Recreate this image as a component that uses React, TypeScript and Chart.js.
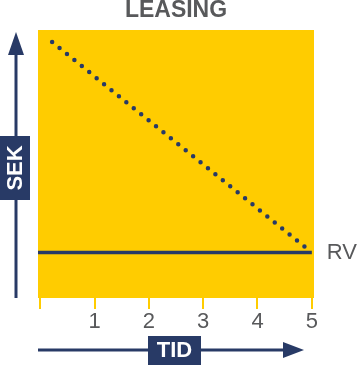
import React, { useEffect, useRef } from "react";
import { Chart, registerables } from "chart.js";

Chart.register(...registerables);

const TITLE = "LEASING";
const Y_LABEL = "SEK";
const X_LABEL = "TID";
const RV_LABEL = "RV";
const X_TICKS = [0, 1, 2, 3, 4, 5];
const X_MIN = -0.04;
const X_MAX = 5.04;
const Y_MIN = 0;
const Y_MAX = 100;
const RV_VALUE = 17;
const RV_LINE_X = [X_MIN, 5];
const LEASE_X = [0.22, 5];
const LEASE_Y = [95.5, RV_VALUE];

const YELLOW = "#FFCC00";
const NAVY = "#283a66";
const GRAY = "#58595b";
const FONT = "'Liberation Sans', Arial, sans-serif";

const decorPlugin = {
  id: "decor",
  beforeDraw(chart: any) {
    const { ctx, chartArea } = chart;
    ctx.save();
    ctx.fillStyle = YELLOW;
    ctx.fillRect(chartArea.left, chartArea.top, chartArea.right - chartArea.left, chartArea.bottom - chartArea.top);
    ctx.restore();
  },
  afterDraw(chart: any) {
    const { ctx, chartArea, scales } = chart;
    ctx.save();
    ctx.fillStyle = NAVY;
    ctx.strokeStyle = NAVY;
    ctx.lineWidth = 3;
    // vertical arrow
    const ax = chartArea.left - 22;
    ctx.beginPath();
    ctx.moveTo(ax, chartArea.bottom);
    ctx.lineTo(ax, chartArea.top + 24);
    ctx.stroke();
    ctx.beginPath();
    ctx.moveTo(ax, chartArea.top + 2);
    ctx.lineTo(ax - 8, chartArea.top + 25);
    ctx.lineTo(ax + 8, chartArea.top + 25);
    ctx.closePath();
    ctx.fill();
    // SEK box
    ctx.fillRect(0, 136, 30, 64);
    ctx.save();
    ctx.translate(15, 168);
    ctx.rotate(-Math.PI / 2);
    ctx.fillStyle = "#ffffff";
    ctx.font = `bold 22px ${FONT}`;
    ctx.textAlign = "center";
    ctx.textBaseline = "middle";
    ctx.fillText(Y_LABEL, 0, 1);
    ctx.restore();
    // horizontal arrow
    const ay = 350;
    ctx.beginPath();
    ctx.moveTo(chartArea.left, ay);
    ctx.lineTo(285, ay);
    ctx.stroke();
    ctx.beginPath();
    ctx.moveTo(304, ay);
    ctx.lineTo(283, ay - 8);
    ctx.lineTo(283, ay + 8);
    ctx.closePath();
    ctx.fill();
    // TID box
    ctx.fillRect(148, 336, 53, 29);
    ctx.fillStyle = "#ffffff";
    ctx.font = `bold 22px ${FONT}`;
    ctx.textAlign = "center";
    ctx.textBaseline = "middle";
    ctx.fillText(X_LABEL, 174.5, 351);
    // RV label
    const rx = scales.x.getPixelForValue(5) + 15;
    const ry = scales.y.getPixelForValue(RV_VALUE);
    ctx.fillStyle = GRAY;
    ctx.font = `22px ${FONT}`;
    ctx.textAlign = "left";
    ctx.fillText(RV_LABEL, rx, ry);
    ctx.restore();
  },
};

export default function App() {
  const ref = useRef<HTMLCanvasElement>(null);
  useEffect(() => {
    if (!ref.current) return;
    const chart = new Chart(ref.current, {
      type: "line",
      data: {
        datasets: [
          {
            data: RV_LINE_X.map((x) => ({ x, y: RV_VALUE })),
            borderColor: NAVY,
            borderWidth: 3.5,
            pointRadius: 0,
          },
          {
            data: LEASE_X.map((x, i) => ({ x, y: LEASE_Y[i] })),
            borderColor: NAVY,
            borderWidth: 4.5,
            borderDash: [0, 9.55],
            borderCapStyle: "round",
            pointRadius: 0,
          },
        ],
      },
      options: {
        animation: false,
        responsive: false,
        layout: { padding: { top: 0, left: 38, right: 45, bottom: 29.6 } },
        plugins: {
          legend: { display: false },
          tooltip: { enabled: false },
          title: {
            display: true,
            text: TITLE,
            color: GRAY,
            font: { family: FONT, size: 23, weight: "bold", lineHeight: 0.9 },
            padding: { top: 0, bottom: 9.3 },
          },
        },
        scales: {
          x: {
            type: "linear",
            min: X_MIN,
            max: X_MAX,
            afterBuildTicks: (scale: any) => {
              scale.ticks = X_TICKS.map((v) => ({ value: v }));
            },
            ticks: {
              color: GRAY,
              padding: 0,
              autoSkip: false,
              maxRotation: 0,
              font: { family: FONT, size: 22, lineHeight: 1.2 },
              callback: (v: any) => (v === 0 ? "" : String(v)),
            },
            grid: {
              drawOnChartArea: false,
              drawTicks: true,
              tickLength: 11,
              color: YELLOW,
              lineWidth: 2,
            },
            border: { display: false },
          },
          y: { type: "linear", min: Y_MIN, max: Y_MAX, display: false },
        },
      },
      plugins: [decorPlugin],
    } as any);
    return () => chart.destroy();
  }, []);
  return (
    <div style={{ position: "fixed", left: 0, top: 0, width: 359, height: 365 }}>
      <canvas ref={ref} width={359} height={365} />
    </div>
  );
}
